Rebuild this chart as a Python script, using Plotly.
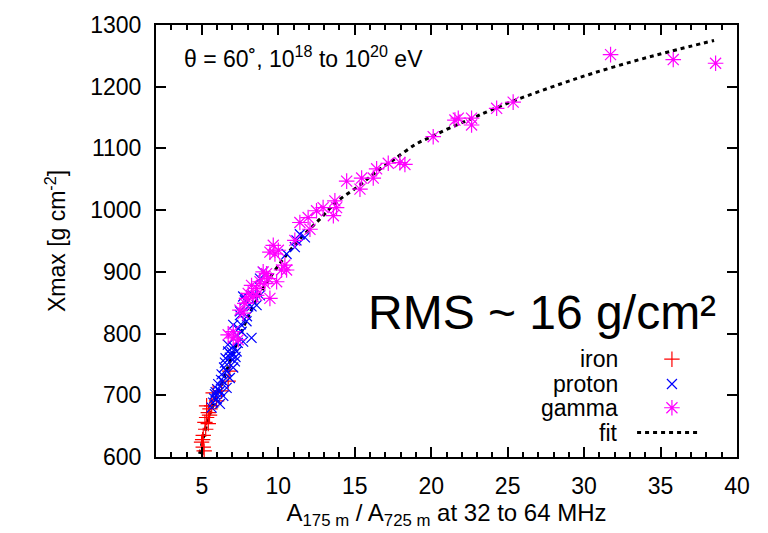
import plotly.graph_objects as go

# ---- data ----
iron_x = [5.09, 4.98, 5.09, 5.2, 5.42, 5.31, 5.42, 5.53, 5.31, 5.64, 5.74, 5.96, 6.29, 6.72, 6.83, 5.15, 5.25, 5.5, 5.05]
iron_y = [616, 624, 635, 656, 654, 664, 672, 678, 683, 683, 704, 691, 707, 723, 739, 610, 645, 668, 628]

proton_x = [11.41, 11.74, 11.08, 11.19, 10.54, 9.0, 8.8, 7.81, 8.36, 8.8, 8.58, 7.7, 8.25, 7.49,
            8.03, 7.49, 7.05, 7.92, 7.6, 7.27, 7.7, 7.05, 6.72, 7.27, 6.83, 7.16, 6.51, 7.05,
            6.62, 6.29, 6.83, 6.39, 6.07, 6.62, 6.18, 5.85, 6.4, 5.96, 5.74, 6.18, 5.64, 8.25,
            6.9, 6.45, 6.0, 7.4, 6.7, 5.8, 7.95, 7.55, 6.55, 6.95, 7.35, 6.25, 5.9, 7.2]
proton_y = [961, 956, 940, 951, 929, 900, 889, 854, 862, 862, 846, 860, 844, 836,
            844, 830, 814, 820, 803, 798, 787, 779, 771, 771, 761, 755, 753, 745,
            739, 734, 728, 723, 718, 712, 707, 702, 699, 694, 688, 686, 680, 793,
            766, 745, 710, 808, 782, 695, 828, 815, 760, 770, 785, 725, 705, 762]

gamma_x = [31.73, 35.83, 38.6, 14.47, 15.45, 15.34, 16.21, 16.43, 17.19, 17.95, 18.28, 20.13,
           21.55, 21.77, 22.64, 22.64, 24.28, 25.36, 13.7, 13.81, 13.6, 12.93, 12.5, 11.95,
           11.41, 12.07, 11.08, 9.67, 9.78, 10.0, 9.45, 10.43, 10.54, 10.21, 9.23, 9.01,
           9.34, 9.89, 8.8, 8.58, 9.45, 8.25, 8.03, 8.36, 7.49, 7.7, 9.12, 7.92, 7.81,
           8.58, 7.05, 6.72, 7.05, 7.38]
gamma_y = [1252, 1244, 1238, 1047, 1052, 1034, 1052, 1067, 1076, 1077, 1074, 1119,
           1146, 1149, 1149, 1138, 1165, 1175, 1015, 1004, 991, 1004, 999, 988,
           980, 969, 951, 943, 929, 935, 932, 911, 903, 903, 897, 900,
           889, 884, 884, 873, 857, 878, 865, 860, 838, 833, 881, 857, 849,
           862, 803, 798, 793, 790]

fit_x = [4.85, 5.5, 6.2, 6.85, 7.5, 8.15, 8.8, 9.3, 10.3, 11.4, 12.7, 13.8, 15.3, 16.4,
         17.5, 19.0, 20.1, 21.2, 22.7, 23.8, 25.6, 28.4, 30.6, 33.2, 35.6, 38.5]
fit_y = [605, 668, 712, 755, 797, 834, 864, 885, 920, 953, 985, 1013, 1040, 1062,
         1081, 1107, 1120, 1133, 1149, 1161, 1179, 1204, 1222, 1241, 1257, 1275]

x_ticks = [5, 10, 15, 20, 25, 30, 35, 40]
y_ticks = [600, 700, 800, 900, 1000, 1100, 1200, 1300]

legend_names = ["iron", "proton", "gamma", "fit"]

FONT = "Liberation Sans, Arial, sans-serif"
RED, BLUE, MAG = "#ff0000", "#0000ff", "#ff00ff"

fig = go.Figure()

fig.add_trace(go.Scatter(x=fit_x, y=fit_y, mode="lines", name="fit",
                         line=dict(color="black", width=3, dash="4px,4px", shape="spline", smoothing=1.0),
                         showlegend=False))
fig.add_trace(go.Scatter(x=iron_x, y=iron_y, mode="markers", name="iron",
                         marker=dict(symbol="cross-thin", size=11, color=RED,
                                     line=dict(color=RED, width=1.2)),
                         showlegend=False))
fig.add_trace(go.Scatter(x=proton_x, y=proton_y, mode="markers", name="proton",
                         marker=dict(symbol="x-thin", size=10, color=BLUE,
                                     line=dict(color=BLUE, width=1.2)),
                         showlegend=False))
fig.add_trace(go.Scatter(x=gamma_x, y=gamma_y, mode="markers", name="gamma",
                         marker=dict(symbol="asterisk", size=13, color=MAG,
                                     line=dict(color=MAG, width=1.2)),
                         showlegend=False))

# ---- gnuplot-style key (text right, symbol to the right) on an overlay axis ----
key_sym_x = 0.888
key_rows = [0.2264, 0.169, 0.114, 0.0567]
fig.add_trace(go.Scatter(x=[key_sym_x], y=[key_rows[0]], xaxis="x2", yaxis="y2", mode="markers",
                         marker=dict(symbol="cross-thin", size=11, color=RED, line=dict(color=RED, width=1.2)),
                         showlegend=False, hoverinfo="skip"))
fig.add_trace(go.Scatter(x=[key_sym_x], y=[key_rows[1]], xaxis="x2", yaxis="y2", mode="markers",
                         marker=dict(symbol="x-thin", size=10, color=BLUE, line=dict(color=BLUE, width=1.2)),
                         showlegend=False, hoverinfo="skip"))
fig.add_trace(go.Scatter(x=[key_sym_x], y=[key_rows[2]], xaxis="x2", yaxis="y2", mode="markers",
                         marker=dict(symbol="asterisk", size=13, color=MAG, line=dict(color=MAG, width=1.2)),
                         showlegend=False, hoverinfo="skip"))
fig.add_trace(go.Scatter(x=[0.828, 0.936], y=[key_rows[3], key_rows[3]], xaxis="x2", yaxis="y2", mode="lines",
                         line=dict(color="black", width=3, dash="4px,4px"),
                         showlegend=False, hoverinfo="skip"))

annotations = []
for name, yy in zip(legend_names, key_rows):
    annotations.append(dict(x=0.798, y=yy, xref="x2 domain", yref="y2 domain", text=name,
                            showarrow=False, xanchor="right", yanchor="middle",
                            font=dict(family=FONT, size=23, color="black")))

annotations.append(dict(x=0.044, y=0.925, xref="paper", yref="paper",
                        text="θ = 60˚, 10<sup>18</sup> to 10<sup>20</sup> eV",
                        showarrow=False, xanchor="left", yanchor="middle",
                        font=dict(family=FONT, size=23, color="black")))
annotations.append(dict(x=0.967, y=0.335, xref="paper", yref="paper",
                        text="RMS ~ 16 g/cm²",
                        showarrow=False, xanchor="right", yanchor="middle",
                        font=dict(family=FONT, size=48, color="black")))

axis_common = dict(showline=True, linecolor="black", linewidth=2, mirror="allticks",
                   ticks="inside", ticklen=10, tickwidth=1.5, tickcolor="black",
                   showgrid=False, zeroline=False,
                   tickfont=dict(family=FONT, size=23, color="black"))

fig.update_layout(
    width=768, height=533,
    margin=dict(l=156, r=31, t=21, b=76),
    paper_bgcolor="white", plot_bgcolor="white",
    font=dict(family=FONT, color="black"),
    xaxis=dict(range=[2, 40], tickvals=x_ticks,
               minor=dict(dtick=1, tick0=0, ticks="inside", ticklen=5, tickcolor="black", tickwidth=1.5),
               title=dict(text="A<sub>175 m</sub> / A<sub>725 m</sub> at 32 to 64 MHz",
                          font=dict(family=FONT, size=24, color="black"), standoff=6),
               ticklabelstandoff=7,
               **axis_common),
    yaxis=dict(range=[600, 1300], tickvals=y_ticks,
               title=dict(text="Xmax [g cm<sup>-2</sup>]",
                          font=dict(family=FONT, size=23, color="black"), standoff=18),
               ticklabelstandoff=8,
               **axis_common),
    xaxis2=dict(overlaying="x", range=[0, 1], visible=False, anchor="y2"),
    yaxis2=dict(overlaying="y", range=[0, 1], visible=False, anchor="x2"),
    annotations=annotations,
)

fig.write_html("out.html")
